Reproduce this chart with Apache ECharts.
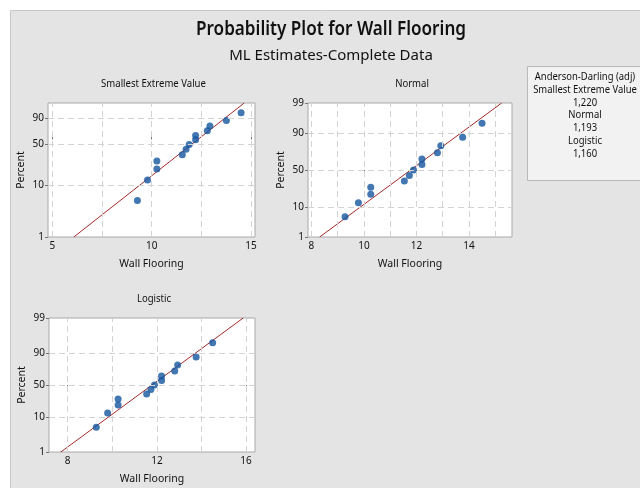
<!DOCTYPE html>
<html><head><meta charset="utf-8">
<script src="https://cdn.jsdelivr.net/npm/echarts@6/dist/echarts.min.js"></script>
<style>html,body{margin:0;padding:0;background:#fff}#c{width:640px;height:488px}</style>
</head><body><div id="c"></div>
<script>
// ---- data ----
const wallFlooring = [9.28, 9.79, 10.26, 10.26, 11.54, 11.73, 11.89, 12.21, 12.21, 12.80, 12.93, 13.76, 14.50];
const percents = [5.2, 12.7, 20.1, 27.6, 35.1, 42.5, 50.0, 57.5, 64.9, 72.4, 79.9, 87.3, 94.8];
const panelTitles = ['Smallest Extreme Value', 'Normal', 'Logistic'];
const sevFit = { mu: 12.52, sigma: 1.40 };
const normalFit = { mu: 11.78, sigma: 1.49 };
const logisticFit = { mu: 11.78, sigma: 0.89 };
const sevPercentTicks = [1, 10, 50, 90];
const normalPercentTicks = [1, 10, 50, 90, 99];
const logisticPercentTicks = [1, 10, 50, 90, 99];
const percentGrid = [10, 50, 90];
const sevXTicks = [5, 10, 15];
const normalXTicks = [8, 10, 12, 14];
const logisticXTicks = [8, 12, 16];
const sevXGrid = [5, 7.5, 10, 12.5, 15];
const normalXGrid = [8, 9, 10, 11, 12, 13, 14, 15];
const logisticXGrid = [8, 10, 12, 14, 16];
const sevXRange = [4.78, 15.2];
const normalXRange = [7.87, 15.64];
const logisticXRange = [7.16, 16.4];
const adLines = ['Anderson-Darling (adj)', 'Smallest Extreme Value', '1,220', 'Normal', '1,193', 'Logistic', '1,160'];
const mainTitle = 'Probability Plot for Wall Flooring';
const subTitle = 'ML Estimates-Complete Data';
const xName = 'Wall Flooring';
const yName = 'Percent';

// ---- transforms ----
function invNorm(p) {
  const a = [-3.969683028665376e+01, 2.209460984245205e+02, -2.759285104469687e+02, 1.383577518672690e+02, -3.066479806614716e+01, 2.506628277459239e+00];
  const b = [-5.447609879822406e+01, 1.615858368580409e+02, -1.556989798598866e+02, 6.680131188771972e+01, -1.328068155288572e+01];
  const c = [-7.784894002430293e-03, -3.223964580411365e-01, -2.400758277161838e+00, -2.549732539343734e+00, 4.374664141464968e+00, 2.938163982698783e+00];
  const d = [7.784695709041462e-03, 3.224671290700398e-01, 2.445134137142996e+00, 3.754408661907416e+00];
  const pl = 0.02425, ph = 1 - pl;
  let q, r;
  if (p < pl) { q = Math.sqrt(-2 * Math.log(p)); return (((((c[0]*q+c[1])*q+c[2])*q+c[3])*q+c[4])*q+c[5]) / ((((d[0]*q+d[1])*q+d[2])*q+d[3])*q+1); }
  if (p <= ph) { q = p - 0.5; r = q*q; return (((((a[0]*r+a[1])*r+a[2])*r+a[3])*r+a[4])*r+a[5])*q / (((((b[0]*r+b[1])*r+b[2])*r+b[3])*r+b[4])*r+1); }
  q = Math.sqrt(-2 * Math.log(1 - p)); return -(((((c[0]*q+c[1])*q+c[2])*q+c[3])*q+c[4])*q+c[5]) / ((((d[0]*q+d[1])*q+d[2])*q+d[3])*q+1);
}
const tSev = p => Math.log(-Math.log(1 - p));
const tLog = p => Math.log(p / (1 - p));
const tNorm = p => invNorm(p);

const panels = [
  { title: panelTitles[0], T: tSev, fit: sevFit, yTicks: sevPercentTicks, xTicks: sevXTicks, xGrid: sevXGrid, xRange: sevXRange,
    grid: { left: 48, top: 103, width: 207, height: 134 } },
  { title: panelTitles[1], T: tNorm, fit: normalFit, yTicks: normalPercentTicks, xTicks: normalXTicks, xGrid: normalXGrid, xRange: normalXRange,
    grid: { left: 308, top: 103, width: 204, height: 134 } },
  { title: panelTitles[2], T: tLog, fit: logisticFit, yTicks: logisticPercentTicks, xTicks: logisticXTicks, xGrid: logisticXGrid, xRange: logisticXRange,
    grid: { left: 49, top: 318, width: 206, height: 134 } }
];

const FONT = "'Noto Sans', sans-serif";
const grids = [], xAxes = [], yAxes = [], series = [], graphics = [];

graphics.push({ type: 'rect', z: -10, shape: { x: 10.5, y: 10.5, width: 640, height: 490 }, style: { fill: '#e4e4e4', stroke: '#c8c8c8', lineWidth: 1 } });
graphics.push({ type: 'text', x: 331, y: 30, scaleX: 0.9, style: { text: mainTitle, font: "600 19px 'Noto Sans'", fill: '#111', textAlign: 'center', textVerticalAlign: 'middle' } });
graphics.push({ type: 'text', x: 331, y: 56, style: { text: subTitle, font: "15px 'Noto Sans'", fill: '#111', textAlign: 'center', textVerticalAlign: 'middle' } });

// legend box
graphics.push({ type: 'rect', shape: { x: 527.5, y: 66.5, width: 125, height: 114 }, style: { fill: '#f2f2f2', stroke: '#b8b8b8', lineWidth: 1 } });
adLines.forEach((s, i) => {
  graphics.push({ type: 'text', x: 585, y: 77 + i * 12.8, scaleX: 0.9, style: { text: s, font: "10.5px 'Noto Sans'", fill: '#111', textAlign: 'center', textVerticalAlign: 'middle' } });
});

panels.forEach((pn, i) => {
  const T = pn.T;
  grids.push(Object.assign({ show: true, backgroundColor: '#ffffff', borderColor: '#a8a8a8', borderWidth: 1 }, pn.grid));
  graphics.push({ type: 'text', x: pn.grid.left + pn.grid.width / 2 + 2, y: pn.grid.top - 19, scaleX: 0.91, style: { text: pn.title, font: "10.5px 'Noto Sans'", fill: '#111', textAlign: 'center', textVerticalAlign: 'middle' } });
  const yTickVals = pn.yTicks.map(p => T(p / 100));
  xAxes.push({
    type: 'value', gridIndex: i, min: pn.xRange[0], max: pn.xRange[1],
    name: xName, nameLocation: 'middle', nameGap: 22,
    nameTextStyle: { fontFamily: FONT, fontSize: 10.5, color: '#111' },
    axisLine: { show: false }, splitLine: { show: false },
    axisTick: { show: true, customValues: pn.xTicks, length: 3, lineStyle: { color: '#777' } },
    axisLabel: { customValues: pn.xTicks, fontFamily: FONT, fontSize: 10, color: '#111', margin: 4 }
  });
  yAxes.push({
    type: 'value', gridIndex: i, min: T(0.01), max: T(0.99),
    name: yName, nameLocation: 'middle', nameGap: 21, nameRotate: 90,
    nameTextStyle: { fontFamily: FONT, fontSize: 10.5, color: '#111' },
    axisLine: { show: false }, splitLine: { show: false },
    axisTick: { show: true, customValues: yTickVals, length: 3, lineStyle: { color: '#777' } },
    axisLabel: {
      customValues: yTickVals, fontFamily: FONT, fontSize: 10, color: '#111', margin: 4,
      formatter: v => { let best = pn.yTicks[0], bd = 1e9; pn.yTicks.forEach(p => { const dd = Math.abs(T(p / 100) - v); if (dd < bd) { bd = dd; best = p; } }); return String(best); }
    }
  });
  // grid lines
  series.push({
    type: 'line', xAxisIndex: i, yAxisIndex: i, data: [], z: 1, silent: true,
    markLine: {
      silent: true, symbol: ['none', 'none'], label: { show: false }, animation: false,
      lineStyle: { type: [6, 4], color: '#d3d3d3', width: 1 },
      emphasis: { disabled: true },
      data: pn.xGrid.map(v => ({ xAxis: v })).concat(percentGrid.map(p => ({ yAxis: T(p / 100) })))
    }
  });
  // fitted line
  const fitPts = [0.01, 0.99].map(p => [pn.fit.mu + pn.fit.sigma * T(p), T(p)]);
  series.push({
    type: 'line', xAxisIndex: i, yAxisIndex: i, data: fitPts, showSymbol: false, symbol: 'none', z: 3, animation: false,
    lineStyle: { color: '#a52a2a', width: 1 }
  });
  // points
  series.push({
    type: 'scatter', xAxisIndex: i, yAxisIndex: i, z: 4, animation: false,
    symbol: 'circle', symbolSize: 7, itemStyle: { color: '#13559f' },
    data: wallFlooring.map((x, k) => [x, T(percents[k] / 100)])
  });
});

const chart = echarts.init(document.getElementById('c'), null, { renderer: 'canvas' });
chart.setOption({
  backgroundColor: '#ffffff',
  animation: false,
  grid: grids, xAxis: xAxes, yAxis: yAxes, series: series,
  graphic: { elements: graphics }
});
</script>
</body></html>
